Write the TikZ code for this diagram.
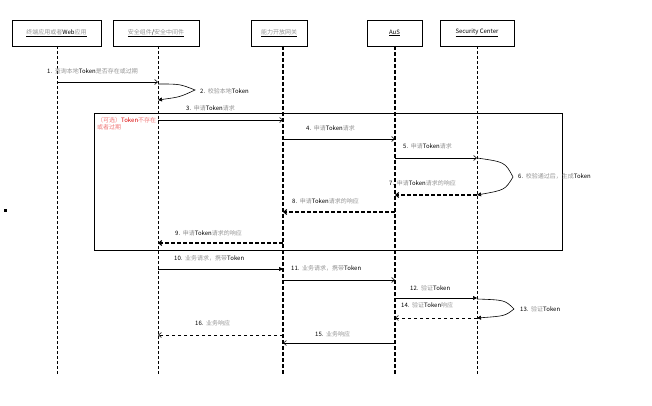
\documentclass[tikz,border=0pt]{standalone}
\usepackage{fontspec}
\setmainfont{Noto Sans CJK SC}
\usetikzlibrary{arrows.meta}
\newcommand\fs{\fontsize{6}{7.4}\selectfont}
\newcommand\gr[1]{\textcolor{black!42}{#1}}
\definecolor{lred}{RGB}{240,120,120}
\begin{document}
\begin{tikzpicture}[x=1pt,y=-1pt]
\tikzset{
  hdr/.style={draw, line width=0.8pt, minimum height=26pt, inner sep=0pt, font=\fs},
  life/.style={line width=0.6pt, dash pattern=on 3pt off 2pt},
  lifebold/.style={line width=1.4pt, dash pattern=on 4pt off 2pt},
  msg/.style={line width=0.6pt, -{Straight Barb[length=3pt,width=5pt]}},
  retmsg/.style={msg, dashed},
  retbold/.style={line width=1.1pt, dash pattern=on 4pt off 2pt, -{Straight Barb[length=3pt,width=5pt]}},
  filmsg/.style={line width=0.6pt, -{Triangle[length=4pt,width=4pt]}},
  lbl/.style={font=\fs, inner sep=1pt, anchor=west},
}
\useasboundingbox (0,0) rectangle (652,406);
% headers
\node[hdr, minimum width=89pt] (h1) at (56.5,33) {\underline{\gr{终端应用或者}Web\gr{应用}}};
\node[hdr, minimum width=86pt] (h2) at (156,33) {\underline{\gr{安全组件}/\gr{安全中间件}}};
\node[hdr, minimum width=56pt] (h3) at (279,33) {\underline{\gr{能力开放网关}}};
\node[hdr, minimum width=55pt] (h4) at (394.5,33) {\underline{AuS}};
\node[hdr, minimum width=74pt] (h5) at (477,33) {\underline{Security Center}};
% lifeline ends
\coordinate (t1) at (57,46);  \coordinate (b1) at (57,375);
\coordinate (t2) at (158,46); \coordinate (b2) at (158,375);
\coordinate (t3) at (283,46); \coordinate (b3) at (283,375);
\coordinate (t4) at (395,46); \coordinate (b4) at (395,375);
\coordinate (t5) at (477,46); \coordinate (b5) at (477,375);
% frame
\node[draw, line width=0.8pt, minimum width=468pt, minimum height=137pt, anchor=north west, inner sep=0pt] (frame) at (94,113) {};
\node[fill, minimum size=3pt, inner sep=0pt] (dot) at (5,210) {};
\draw[life] (t1) -- (b1);
\draw[life] (t2) -- (b2);
\draw[lifebold] (t3) -- (b3);
\draw[lifebold] (t4) -- (b4);
\draw[life] (t5) -- (b5);
% message coordinates
\coordinate (m1a) at (57,82);   \coordinate (m1b) at (158,82);
\coordinate (m2a) at (158,84);  \coordinate (m2t) at (195,90); \coordinate (m2b) at (158,100);
\coordinate (m3a) at (158,120); \coordinate (m3b) at (283,120);
\coordinate (m4a) at (283,139); \coordinate (m4b) at (395,139);
\coordinate (m5a) at (395,158); \coordinate (m5b) at (477,158);
\coordinate (m6a) at (477,158); \coordinate (m6t) at (513,177); \coordinate (m6b) at (477,195);
\coordinate (m7a) at (477,195); \coordinate (m7b) at (395,195);
\coordinate (m8a) at (395,212); \coordinate (m8b) at (283,212);
\coordinate (m9a) at (283,243); \coordinate (m9b) at (158,243);
\coordinate (m10a) at (158,269); \coordinate (m10b) at (283,269);
\coordinate (m11a) at (283,280); \coordinate (m11b) at (395,280);
\coordinate (m12a) at (395,298); \coordinate (m12b) at (477,298);
\coordinate (m13a) at (477,299); \coordinate (m13t) at (514,309); \coordinate (m13b) at (477,318);
\coordinate (m14a) at (477,318); \coordinate (m14b) at (395,318);
\coordinate (m15a) at (395,343); \coordinate (m15b) at (283,343);
\coordinate (m16a) at (283,335); \coordinate (m16b) at (158,335);
% messages
\draw[msg] (m1a) -- (m1b);
\draw[filmsg] (m2a) .. controls (180,84) .. (m2t) .. controls (180,97) .. (m2b);
\draw[msg] (m3a) -- (m3b);
\draw[msg] (m4a) -- (m4b);
\draw[msg] (m5a) -- (m5b);
\draw[filmsg] (m6a) .. controls (505,162) .. (m6t) .. controls (505,190) .. (m6b);
\draw[retbold] (m7a) -- (m7b);
\draw[retbold] (m8a) -- (m8b);
\draw[retbold] (m9a) -- (m9b);
\draw[filmsg] (m10a) -- (m10b);
\draw[msg] (m11a) -- (m11b);
\draw[filmsg] (m12a) -- (m12b);
\draw[filmsg] (m13a) .. controls (505,300) .. (m13t) .. controls (505,316) .. (m13b);
\draw[retmsg] (m14a) -- (m14b);
\draw[msg] (m15a) -- (m15b);
\draw[retmsg] (m16a) -- (m16b);
% labels
\node[lbl] (l1) at (46,71) {1.\ \ \gr{查询本地}Token\gr{是否存在或过期}};
\node[lbl] (l2) at (199,91) {2.\ \ \gr{校验本地}Token};
\node[lbl, fill=white] (l3) at (185,108) {3.\ \ \gr{申请}Token\gr{请求}};
\node[lbl] (l4) at (305,128) {4.\ \ \gr{申请}Token\gr{请求}};
\node[lbl] (l5) at (402,146) {5.\ \ \gr{申请}Token\gr{请求}};
\node[lbl] (l6) at (517,176) {6.\ \ \gr{校验通过后，生成}Token};
\node[lbl] (l7) at (388,183) {7.\ \ \gr{申请}Token\gr{请求的响应}};
\node[lbl] (l8) at (291,201) {8.\ \ \gr{申请}Token\gr{请求的响应}};
\node[lbl] (l9) at (174,233) {9.\ \ \gr{申请}Token\gr{请求的响应}};
\node[lbl] (l10) at (173,258) {10.\ \ \gr{业务请求，携带}Token};
\node[lbl] (l11) at (290,268) {11.\ \ \gr{业务请求，携带}Token};
\node[lbl] (l12) at (409,288) {12.\ \ \gr{验证}Token};
\node[lbl] (l13) at (519,309) {13.\ \ \gr{验证}Token};
\node[lbl] (l14) at (400,305) {14.\ \ \gr{验证}Token\gr{响应}};
\node[lbl] (l15) at (314,334) {15.\ \ \gr{业务响应}};
\node[lbl] (l16) at (194,323) {16.\ \ \gr{业务响应}};
\node[font=\fs, inner sep=1pt, anchor=north west, align=left, text=lred] (opt) at (96,116) {（可选）\textcolor{red!85!black}{Token}不存在\\或者过期};
\end{tikzpicture}
\end{document}
